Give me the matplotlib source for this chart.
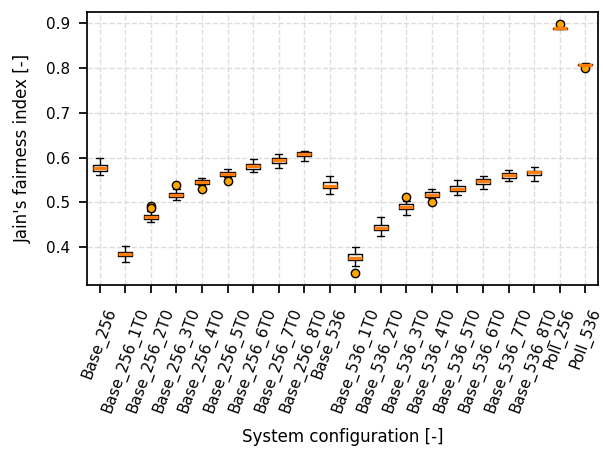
import matplotlib
matplotlib.use("Agg")
import matplotlib.pyplot as plt
import seaborn as sns

sns.set_theme(context="notebook", style="ticks")
plt.rcParams['font.family'] = ['DejaVu Sans']

labels = ["Base_256", "Base_256_1T0", "Base_256_2T0", "Base_256_3T0", "Base_256_4T0",
          "Base_256_5T0", "Base_256_6T0", "Base_256_7T0", "Base_256_8T0", "Base_536",
          "Base_536_1T0", "Base_536_2T0", "Base_536_3T0", "Base_536_4T0", "Base_536_5T0",
          "Base_536_6T0", "Base_536_7T0", "Base_536_8T0", "Poll_256", "Poll_536"]
whislo = [0.561, 0.367, 0.457, 0.506, 0.538, 0.557, 0.567, 0.578, 0.593, 0.520,
          0.358, 0.424, 0.473, 0.510, 0.516, 0.531, 0.547, 0.549, 0.887, 0.805]
q1 = [0.570, 0.380, 0.462, 0.5115, 0.541, 0.559, 0.575, 0.589, 0.603, 0.532,
      0.371, 0.438, 0.485, 0.5126, 0.525, 0.542, 0.5554, 0.5606, 0.8885, 0.806]
med = [0.5777, 0.3857, 0.4676, 0.516, 0.5457, 0.5628, 0.5807, 0.594, 0.6074, 0.5375,
       0.3753, 0.4438, 0.4903, 0.517, 0.5308, 0.547, 0.5606, 0.5673, 0.8895, 0.808]
q3 = [0.5836, 0.390, 0.4728, 0.521, 0.550, 0.568, 0.5866, 0.600, 0.6126, 0.545,
      0.384, 0.4497, 0.4955, 0.5223, 0.5368, 0.5524, 0.5658, 0.571, 0.8905, 0.810]
whishi = [0.5985, 0.4036, 0.480, 0.529, 0.554, 0.574, 0.596, 0.608, 0.6156, 0.559,
          0.4013, 0.4676, 0.503, 0.529, 0.5494, 0.5598, 0.5725, 0.579, 0.891, 0.811]
fliers = [[], [], [0.4914, 0.487], [0.540], [0.530], [0.547], [], [], [], [],
          [0.3433], [], [0.512], [0.500], [], [], [], [], [0.8978], [0.7996]]

stats = []
for i in range(len(labels)):
    stats.append(dict(label=labels[i], whislo=whislo[i], q1=q1[i], med=med[i],
                      q3=q3[i], whishi=whishi[i], fliers=fliers[i]))

fig = plt.figure(figsize=(6.03, 4.49), dpi=100)
ax = fig.add_axes([87/603, 1-285/449, (598-87)/603, (285-12)/449])
ax.bxp(stats, widths=0.55,
       boxprops=dict(color='black', linewidth=1.0),
       whiskerprops=dict(color='black', linewidth=1.0),
       capprops=dict(color='black', linewidth=1.0),
       medianprops=dict(color='#ff7f0e', linewidth=2.4),
       flierprops=dict(marker='o', markerfacecolor='orange', markeredgecolor='black',
                       markersize=6, markeredgewidth=1.0, linestyle='none'))
ax.grid(True, linestyle='--', color='#dddddd', linewidth=1.0)
ax.set_axisbelow(True)
ax.set_xticks(range(1, len(labels)+1))
ax.set_xticklabels(labels, rotation=70, fontsize=11)
ax.set_yticks([0.4, 0.5, 0.6, 0.7, 0.8, 0.9])
ax.tick_params(axis='y', labelsize=11, pad=6, colors='black')
ax.tick_params(axis='x', pad=9, colors='black')
ax.set_xlabel("System configuration [-]", fontsize=12, color='black', labelpad=9)
ax.set_ylabel("Jain's fairness index [-]", fontsize=12, color='black', labelpad=10)
for s in ax.spines.values():
    s.set_color('black')
    s.set_linewidth(1.25)
fig.savefig("out.png", dpi=100)
